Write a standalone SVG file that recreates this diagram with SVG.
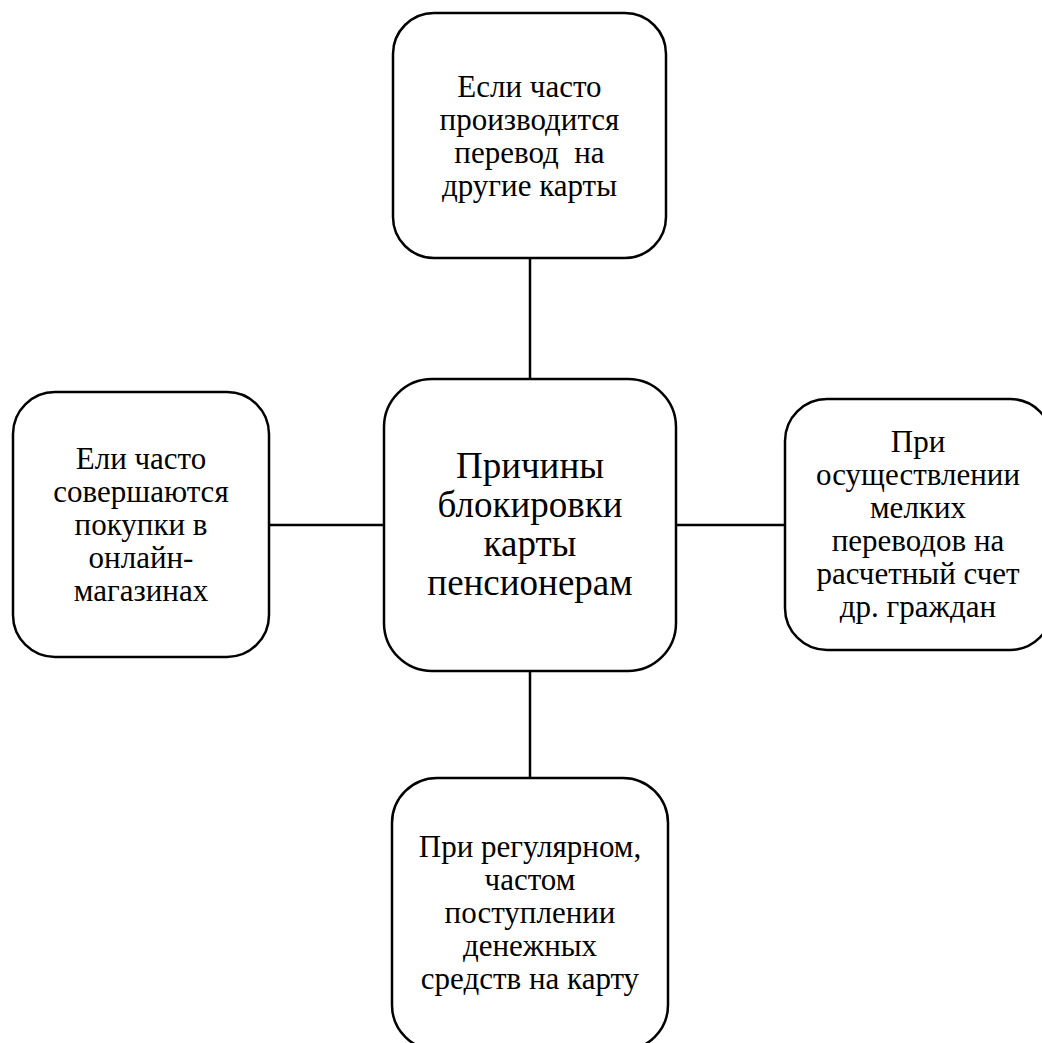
<svg xmlns="http://www.w3.org/2000/svg" width="1042" height="1043" viewBox="0 0 1042 1043">
<style>
.box{fill:#fff;stroke:#000;stroke-width:2.5}
.con line{stroke:#000;stroke-width:2.5}
.t{font-family:"Liberation Serif","Times New Roman",serif;font-size:31px;fill:#000;text-anchor:middle}
.tc{font-family:"Liberation Serif","Times New Roman",serif;font-size:37px;fill:#000;text-anchor:middle}
</style>
<rect width="1042" height="1043" fill="#fff"/>
<g id="connectors" class="con">
<line x1="530" y1="258" x2="530" y2="379"/>
<line x1="269" y1="525" x2="384" y2="525"/>
<line x1="676" y1="525" x2="785" y2="525"/>
<line x1="530" y1="671" x2="530" y2="778"/>
</g>
<g id="center">
<rect class="box" x="384" y="379" width="292" height="292" rx="48" ry="48"/>
<text class="tc"><tspan x="530" y="478">Причины</tspan><tspan x="530" y="517">блокировки</tspan><tspan x="530" y="556">карты</tspan><tspan x="530" y="595">пенсионерам</tspan></text>
</g>
<g id="top">
<rect class="box" x="393" y="13" width="273" height="245" rx="41" ry="41"/>
<text class="t"><tspan x="529.5" y="97">Если часто</tspan><tspan x="529.5" y="130">производится</tspan><tspan x="529.5" y="163" xml:space="preserve">перевод  на</tspan><tspan x="529.5" y="196">другие карты</tspan></text>
</g>
<g id="left">
<rect class="box" x="13" y="392" width="256" height="265" rx="42" ry="42"/>
<text class="t"><tspan x="141" y="469">Ели часто</tspan><tspan x="141" y="502">совершаются</tspan><tspan x="141" y="535">покупки в</tspan><tspan x="141" y="568">онлайн-</tspan><tspan x="141" y="601">магазинах</tspan></text>
</g>
<g id="right">
<rect class="box" x="785" y="399" width="267" height="251" rx="42" ry="42"/>
<text class="t"><tspan x="918" y="452">При</tspan><tspan x="918" y="485">осуществлении</tspan><tspan x="918" y="518">мелких</tspan><tspan x="918" y="551">переводов на</tspan><tspan x="918" y="584">расчетный счет</tspan><tspan x="918" y="617">др. граждан</tspan></text>
</g>
<g id="bottom">
<rect class="box" x="392" y="778" width="276" height="272" rx="45" ry="45"/>
<text class="t"><tspan x="530" y="857">При регулярном,</tspan><tspan x="530" y="890">частом</tspan><tspan x="530" y="923">поступлении</tspan><tspan x="530" y="956">денежных</tspan><tspan x="530" y="989">средств на карту</tspan></text>
</g>
</svg>
